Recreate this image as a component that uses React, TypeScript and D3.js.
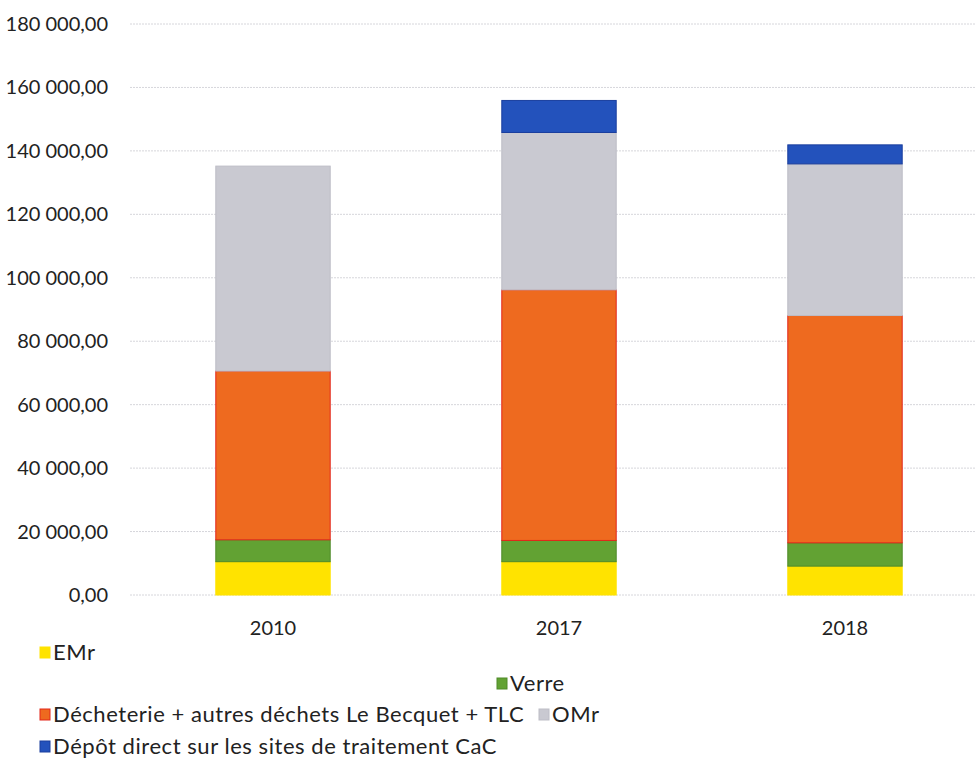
import React from "react";
import * as d3 from "d3";

const categories = ["2010", "2017", "2018"];
const seriesNames = [
  "EMr",
  "Verre",
  "Décheterie + autres déchets Le Becquet + TLC",
  "OMr",
  "Dépôt direct sur les sites de traitement CaC",
];
const emr = [10500, 10500, 9100];
const verre = [6900, 6700, 7350];
const decheterie = [53200, 79000, 71650];
const omr = [64600, 49600, 47800];
const depot = [0, 10100, 6000];
const yTicks = [0, 20000, 40000, 60000, 80000, 100000, 120000, 140000, 160000, 180000];

const colors = ["#FFE300", "#62A233", "#EE6A1F", "#C9C9D1", "#2352BC"];
const strokes = ["#FFE300", "#4E8A28", "#E3261A", "#BDBDC6", "#1A3E9E"];

const W = 975;
const H = 773;
const FONT = "Lato, 'Noto Sans', sans-serif";

function fmt(v: number) {
  const s = d3.format(",.2f")(v);
  return s.replace(/,/g, " ").replace(/\.(\d\d)$/, ",$1");
}

export default function App() {
  const y = d3.scaleLinear().domain([0, 180000]).range([595, 24]);
  const x = d3.scaleBand().domain(categories).range([130, 988]).padding(0);
  const bw = x.step() * 0.4;

  const rows = categories.map((c, i) => ({
    cat: c,
    s0: emr[i],
    s1: verre[i],
    s2: decheterie[i],
    s3: omr[i],
    s4: depot[i],
  }));
  const stack = d3.stack<any>().keys(["s0", "s1", "s2", "s3", "s4"]);
  const layers = stack(rows);

  const legend = [
    { i: 0, x: 40, y: 652 },
    { i: 1, x: 497, y: 683 },
    { i: 2, x: 40, y: 714 },
    { i: 3, x: 539, y: 714 },
    { i: 4, x: 40, y: 746 },
  ];

  return (
    <svg
      width={W}
      height={H}
      style={{ position: "absolute", left: 0, top: 0, background: "#fff" }}
      fontFamily={FONT}
    >
      <rect x={0} y={0} width={W} height={H} fill="#fff" />
      {yTicks.map((t) => (
        <g key={t}>
          <line
            x1={130}
            x2={975}
            y1={y(t)}
            y2={y(t)}
            stroke="#d6d6db"
            strokeWidth={1}
            strokeDasharray="2 1"
          />
          <text
            x={108}
            y={y(t)}
            dy="0.35em"
            textAnchor="end"
            fontSize={20}
            fill="#222"
          >
            {fmt(t)}
          </text>
        </g>
      ))}
      {layers.map((layer, li) =>
        layer.map((d, ci) => {
          const h = y(d[0]) - y(d[1]);
          if (h <= 0) return null;
          const cx = (x(categories[ci]) as number) + x.bandwidth() / 2;
          return (
            <rect
              key={li + "-" + ci}
              x={cx - bw / 2}
              y={y(d[1])}
              width={bw}
              height={h}
              fill={colors[li]}
              stroke={strokes[li]}
              strokeWidth={1}
            />
          );
        })
      )}
      {categories.map((c) => (
        <text
          key={c}
          x={(x(c) as number) + x.bandwidth() / 2}
          y={628}
          dy="0.35em"
          textAnchor="middle"
          fontSize={20}
          fill="#222"
        >
          {c}
        </text>
      ))}
      {legend.map((l) => (
        <g key={l.i}>
          <rect
            x={l.x}
            y={l.y - 5}
            width={10}
            height={11}
            fill={colors[l.i]}
            stroke={strokes[l.i]}
            strokeWidth={1}
          />
          <text
            x={l.x + 13}
            y={l.y}
            dy="0.35em"
            fontSize={22}
            letterSpacing={0.55}
            fill="#222"
          >
            {seriesNames[l.i]}
          </text>
        </g>
      ))}
    </svg>
  );
}
